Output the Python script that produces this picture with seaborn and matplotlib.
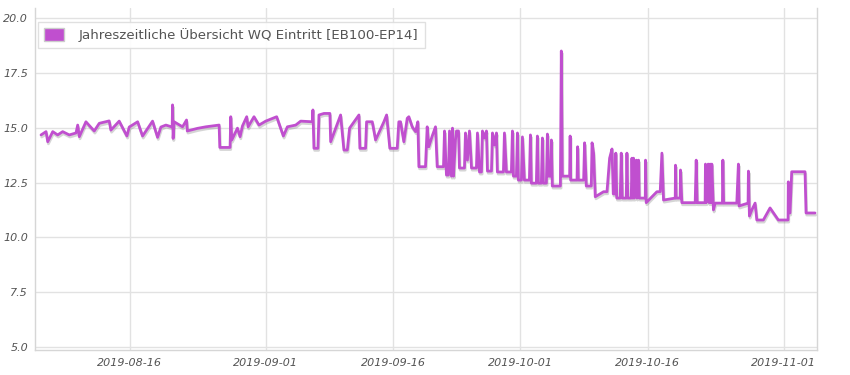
import pandas as pd
import matplotlib
matplotlib.use("Agg")
import matplotlib.pyplot as plt
import matplotlib.dates as mdates
import matplotlib.patheffects as pe
from matplotlib.patches import Patch
import seaborn as sns

series_name = "Jahreszeitliche Übersicht WQ Eintritt [EB100-EP14]"
start = "2019-08-01"

days = [
    4.53, 5.12, 5.32, 5.91, 6.49, 7.08, 7.86, 8.65, 8.85, 9.04, 9.82, 10.80, 11.39,
    12.56, 12.76, 13.74, 14.65, 14.92, 15.91, 16.49, 17.67, 18.26, 18.65, 19.24,
    19.98, 20.02, 20.09, 20.21, 21.20, 21.67, 21.76, 22.96, 23.94, 25.51, 25.59,
    26.80, 26.88, 27.00, 27.67, 27.98, 28.26, 28.76, 28.92, 29.62, 30.21, 31.00,
    32.29, 33.08, 33.55, 34.53, 35.12,
    36.49, 36.56, 36.68, 37.15, 37.27, 37.86, 38.56, 38.65, 39.82, 40.21, 40.61,
    40.88, 41.98, 42.09, 42.76, 42.88, 43.55, 43.94, 44.92, 45.24, 45.62, 46.49,
    46.68, 46.88, 47.27, 47.67, 47.86, 48.26, 48.65, 48.92, 49.04, 49.82, 50.02,
    50.21, 50.61, 51.00, 51.20, 51.94, 52.06, 52.29, 52.53, 52.65, 52.88, 53.00,
    53.12, 53.35, 53.47, 53.71, 53.82, 54.41, 54.53, 54.76, 55.00, 55.24, 55.82,
    55.94, 56.18, 56.41, 56.53, 56.76, 57.00, 57.12, 57.59, 57.71, 57.94, 58.18,
    58.29, 59.00, 59.12, 59.35, 59.94, 60.06, 60.18, 60.53, 60.65, 60.76, 61.12,
    61.24, 61.47, 62.06, 62.18, 62.29, 62.88, 63.00, 63.12, 63.47, 63.59, 63.71,
    64.06, 64.18, 64.29, 64.53, 64.65, 64.76, 65.71, 65.82, 65.94, 66.80,
    66.86, 66.92, 67.67, 67.74, 67.82, 68.45, 68.56, 68.76, 69.35, 69.44, 69.62,
    69.82, 70.80, 71.20, 71.51, 71.79, 71.94, 72.18, 72.24, 72.35, 72.76, 72.88,
    73.00, 73.47, 73.55, 73.65, 74.06, 74.14, 74.24, 74.33, 74.41, 74.65, 74.73,
    74.92, 75.00, 75.71, 75.74, 75.82, 77.08, 77.47, 77.67, 77.86, 79.24, 79.27,
    79.35, 79.82, 79.86, 80.02, 81.59, 81.71, 81.82, 82.76, 82.80, 82.88, 83.12,
    83.24, 83.35, 83.47, 83.55, 83.74, 83.94, 84.80, 84.85, 84.94, 86.49, 86.68,
    86.76, 87.82, 87.86, 87.98, 88.26, 88.65, 88.85, 89.62, 90.41, 91.39, 92.53,
    92.56, 92.76, 92.96, 94.53, 94.65, 95.71,
]
values = [
    14.67, 14.82, 14.36, 14.82, 14.67, 14.82, 14.67, 14.76, 15.12, 14.59, 15.27, 14.85, 15.20,
    15.31, 14.89, 15.30, 14.62, 15.03, 15.27, 14.62, 15.30, 14.56, 15.03, 15.12,
    15.03, 16.04, 14.51, 15.27, 15.04, 15.35, 14.85, 14.97, 15.04, 15.12, 14.10,
    14.10, 15.50, 14.44, 14.98, 14.59, 15.08, 15.50, 15.04, 15.50, 15.12, 15.30,
    15.50, 14.62, 15.04, 15.12, 15.30,
    15.27, 15.81, 14.06, 14.06, 15.58, 15.65, 15.65, 14.36, 15.58, 13.98, 13.98,
    14.98, 15.58, 14.06, 14.06, 15.27, 15.27, 14.44, 15.27, 15.58, 14.06, 14.06,
    15.27, 15.27, 14.36, 15.43, 15.50, 15.04, 14.82, 15.27, 13.22, 13.22, 15.04,
    14.13, 14.62, 15.04, 13.22, 13.22, 14.85, 12.84, 12.84, 14.85, 12.79, 14.98,
    12.79, 14.44, 14.85, 14.85, 13.16, 13.16, 14.76, 13.52, 14.85, 13.16, 13.16,
    14.76, 12.98, 12.98, 14.85, 14.53, 14.85, 13.02, 13.02, 14.76, 14.21, 14.76,
    12.98, 12.98, 14.76, 12.98, 12.98, 14.85, 12.79, 12.79, 14.76, 12.61, 12.61,
    14.58, 12.61, 12.61, 14.67, 12.47, 12.47, 14.62, 12.47, 12.47, 14.53, 12.47,
    12.47, 14.71, 12.79, 12.79, 14.44, 12.34, 12.34, 18.50, 12.79, 12.79,
    14.62, 12.61, 12.61, 14.13, 12.61, 12.61, 14.31, 12.34, 12.34, 14.31, 13.84,
    11.85, 12.08, 12.08, 13.61, 14.03, 11.98, 11.98, 13.84, 11.79, 11.79, 13.84,
    11.79, 11.79, 13.84, 11.79, 11.79, 13.61, 11.79, 13.61, 11.79, 13.52, 11.79,
    13.52, 11.79, 11.79, 13.52, 11.58, 12.08, 12.08, 13.84, 11.70, 11.79, 13.29,
    11.79, 11.79, 13.07, 11.58, 11.58, 13.52, 11.58, 11.58, 13.34, 11.58, 13.34,
    11.58, 13.34, 11.58, 13.34, 11.25, 11.56, 11.56, 13.52, 11.56, 11.56, 13.34,
    11.43, 11.56, 13.02, 10.97, 11.25, 11.56, 10.79, 10.79, 11.34, 10.79, 10.79,
    12.53, 11.11, 12.99, 12.99, 11.11, 11.11,
]

tick_dates = ["2019-08-16", "2019-09-01", "2019-09-16", "2019-10-01", "2019-10-16", "2019-11-01"]
y_ticks = [5.0, 7.5, 10.0, 12.5, 15.0, 17.5, 20.0]

t0 = pd.Timestamp(start)
df = pd.DataFrame({"zeit": t0 + pd.to_timedelta(days, unit="D"), "wert": values})

sns.set_theme(style="whitegrid")
plt.rcParams["font.family"] = ["DejaVu Sans"]

color = "#c04fcf"

fig = plt.figure(figsize=(8.5, 3.75), dpi=100)
ax = fig.add_axes([35 / 850, 25 / 375, 782 / 850, 342 / 375])

sns.lineplot(data=df, x="zeit", y="wert", ax=ax, color=color, linewidth=2.0,
             estimator=None, sort=False, legend=False)
ax.lines[0].set_path_effects([
    pe.SimpleLineShadow(offset=(0.5, -1.5), shadow_color="#777777", alpha=0.3),
    pe.Normal(),
])

ax.set_xlim(t0 + pd.Timedelta(days=3.82), t0 + pd.Timedelta(days=95.94))
ax.set_ylim(4.86, 20.46)
ax.set_xticks(pd.to_datetime(tick_dates))
ax.xaxis.set_major_formatter(mdates.DateFormatter("%Y-%m-%d"))
ax.set_yticks(y_ticks)
ax.set_yticklabels([f"{v:.1f}" for v in y_ticks])
ax.set_xlabel("")
ax.set_ylabel("")

ax.grid(True, color="#e2e2e2", linewidth=1.0)
ax.tick_params(axis="both", labelsize=8, labelcolor="#545454", length=0)
ax.tick_params(axis="x", pad=6)
ax.tick_params(axis="y", pad=5)
for lbl in ax.get_xticklabels() + ax.get_yticklabels():
    lbl.set_fontstyle("italic")

for side in ["left", "right", "bottom"]:
    ax.spines[side].set_color("#d6d6d6")
    ax.spines[side].set_linewidth(1.0)
ax.spines["top"].set_visible(False)

handle = Patch(facecolor=color, edgecolor="#cccccc", linewidth=1.0)
leg = ax.legend([handle], [series_name], loc="upper left", bbox_to_anchor=(0.0, 0.968),
                borderaxespad=0.25, fontsize=9.6, frameon=True, fancybox=False,
                framealpha=0.9, edgecolor="#dddddd", handlelength=1.5, handleheight=1.1,
                borderpad=0.45, handletextpad=1.1)
for txt in leg.get_texts():
    txt.set_color("#545454")

fig.savefig("out.png", dpi=100)
